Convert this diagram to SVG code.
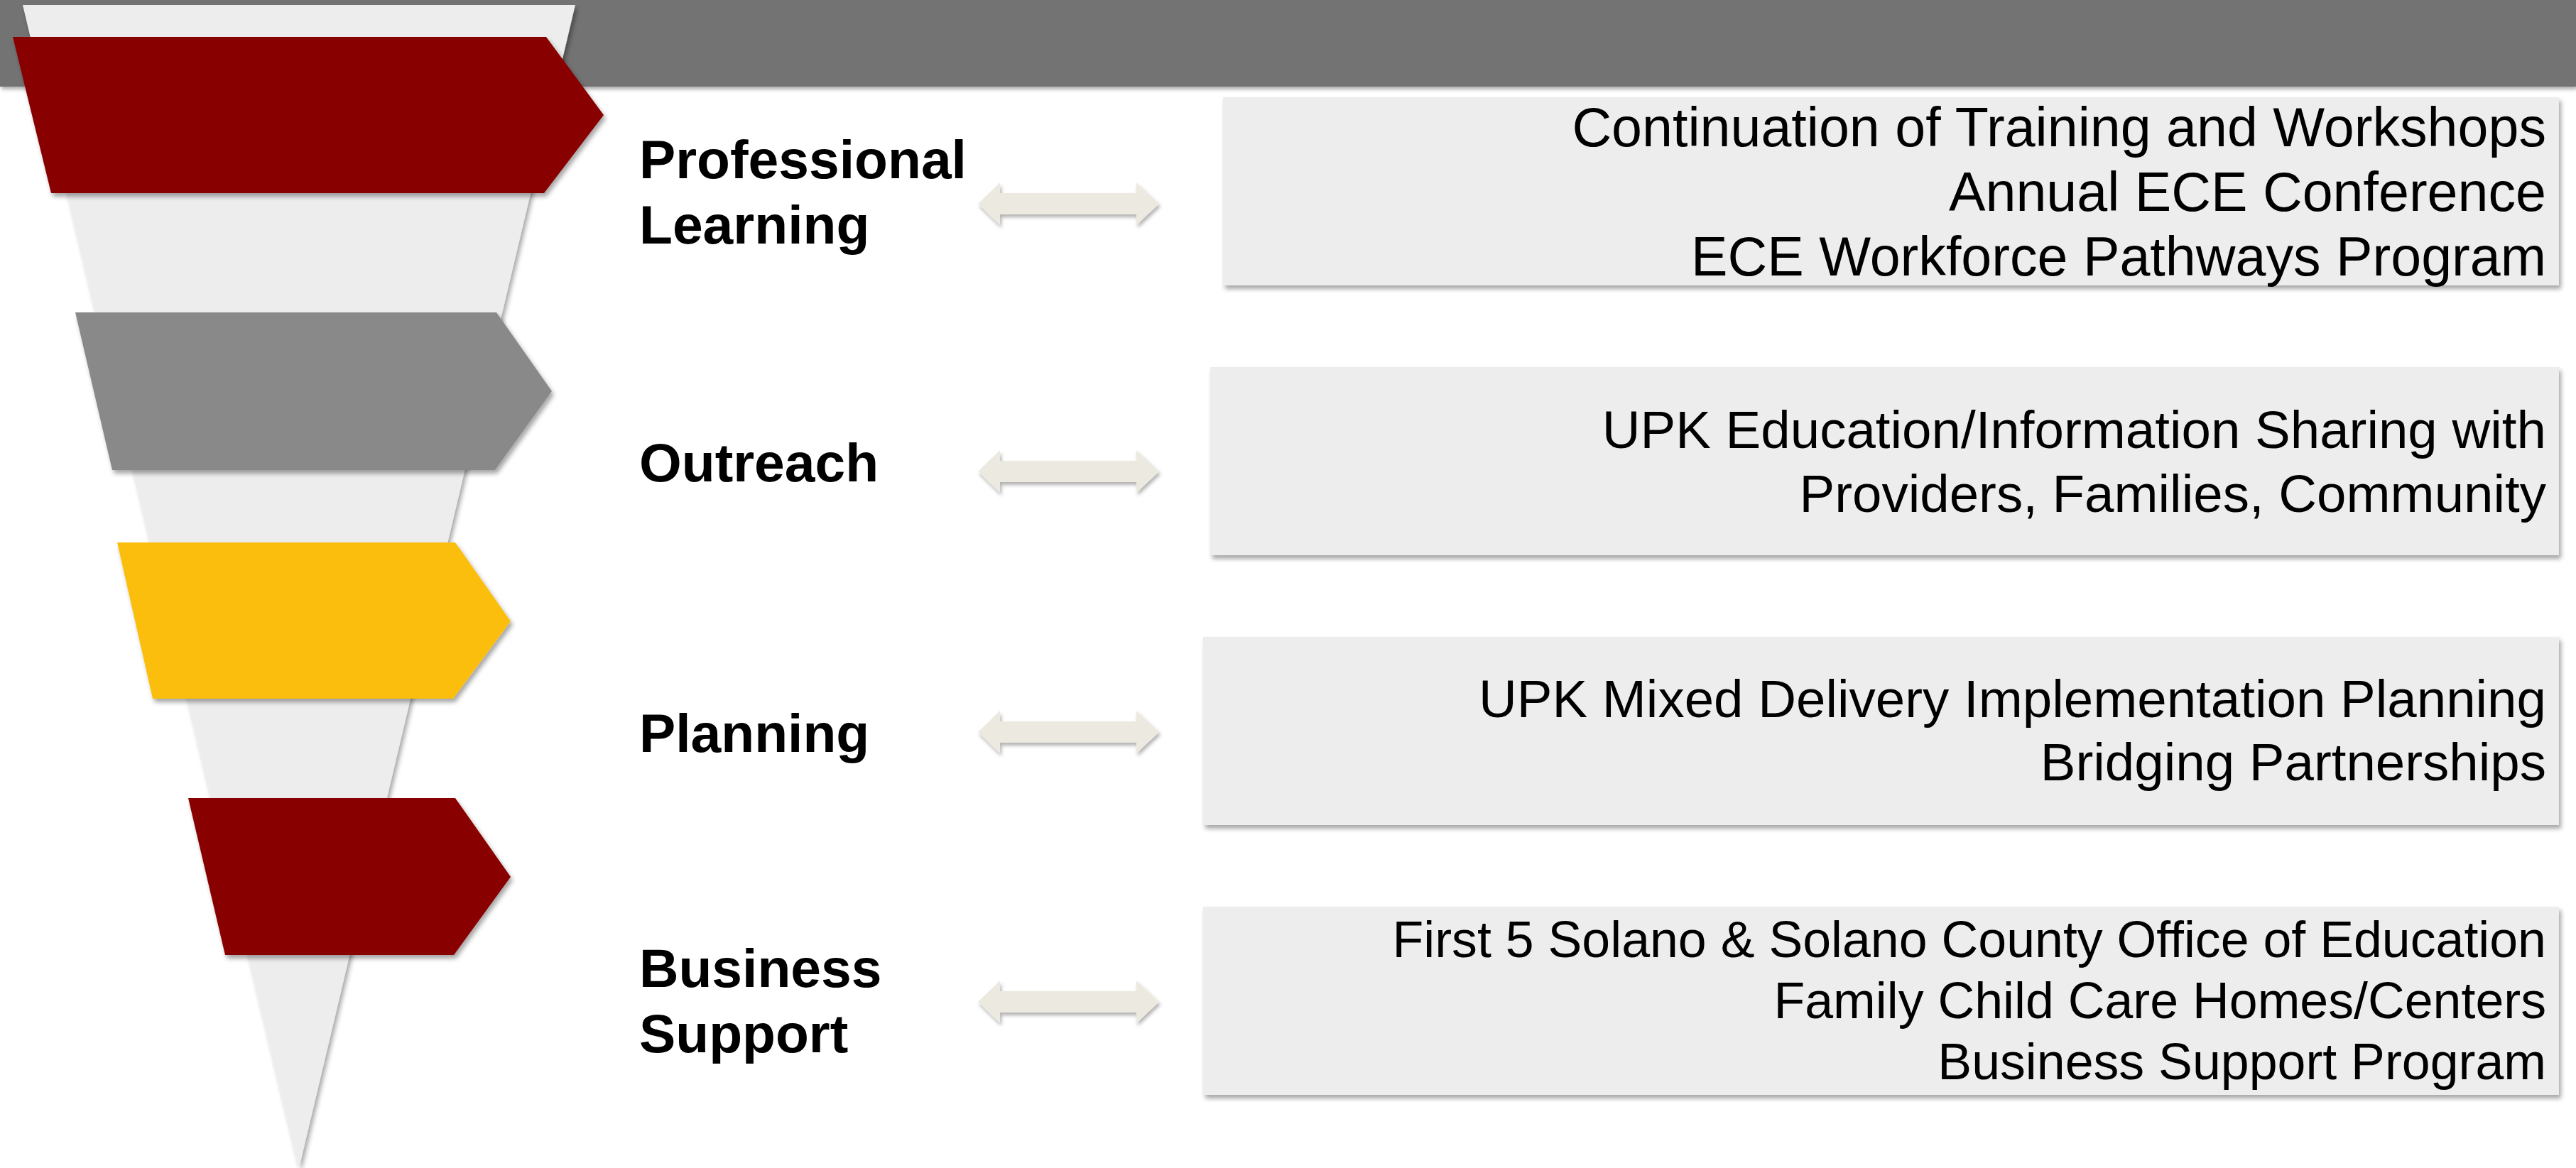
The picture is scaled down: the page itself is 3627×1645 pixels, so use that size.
<svg xmlns="http://www.w3.org/2000/svg" width="3627" height="1645" viewBox="0 0 3627 1645">
<defs>
<filter id="sh" x="-10%" y="-10%" width="130%" height="130%">
<feDropShadow dx="3" dy="5" stdDeviation="3" flood-color="#000" flood-opacity="0.35"/>
</filter>
<filter id="shs" x="-10%" y="-50%" width="130%" height="250%">
<feDropShadow dx="2" dy="4" stdDeviation="2.5" flood-color="#000" flood-opacity="0.3"/>
</filter>
<style>
.lbl{font-family:"Liberation Sans",Arial,sans-serif;font-weight:bold;font-size:76.8px;fill:#000}
.box{fill:#EDEDED;filter:url(#sh)}
.bt{font-family:"Liberation Sans",Arial,sans-serif;font-size:76px;fill:#000;text-anchor:end}
.dbl{fill:#ECEAE0;filter:url(#shs)}
</style>
</defs>
<rect width="3627" height="1645" fill="#FFFFFF"/>
<rect id="topbar" x="0" y="0" width="3627" height="122" fill="#737373" filter="url(#shs)"/>
<g id="funnel">
<polygon points="32,7 810,7 421,1645" fill="#EDEDED" filter="url(#sh)"/>
</g>
<g id="stage1"><polygon points="18,52 769,52 850,162 766,272 72,272" fill="#880000" filter="url(#sh)"/></g>
<g id="stage2"><polygon points="106,440 699,440 777,551 697,662 158,662" fill="#898989" filter="url(#sh)"/></g>
<g id="stage3"><polygon points="165,764 641,764 719,875 638,984 215,984" fill="#FBBE10" filter="url(#sh)"/></g>
<g id="stage4"><polygon points="265,1124 641,1124 719,1235 639,1345 317,1345" fill="#880000" filter="url(#sh)"/></g>
<g id="label1"><text class="lbl" x="900" y="251">Professional</text><text class="lbl" x="900" y="343">Learning</text></g>
<g id="label2"><text class="lbl" x="900" y="678">Outreach</text></g>
<g id="label3"><text class="lbl" x="900" y="1059">Planning</text></g>
<g id="label4"><text class="lbl" x="900" y="1390">Business</text><text class="lbl" x="900" y="1482">Support</text></g>
<g id="connectors">
<polygon class="dbl" points="1377,287 1408,257 1408,272 1600,272 1600,257 1632,287 1600,317 1600,302 1408,302 1408,317"/>
<polygon class="dbl" points="1377,664 1408,634 1408,649 1600,649 1600,634 1632,664 1600,694 1600,679 1408,679 1408,694"/>
<polygon class="dbl" points="1377,1031 1408,1001 1408,1016 1600,1016 1600,1001 1632,1031 1600,1061 1600,1046 1408,1046 1408,1061"/>
<polygon class="dbl" points="1377,1411 1408,1381 1408,1396 1600,1396 1600,1381 1632,1411 1600,1441 1600,1426 1408,1426 1408,1441"/>
</g>
<g id="box1"><rect class="box" x="1722" y="137" width="1881" height="265"/>
<text class="bt" x="3585" y="206" style="font-size:77.2px">Continuation of Training and Workshops</text>
<text class="bt" x="3585" y="297" style="font-size:77.2px">Annual ECE Conference</text>
<text class="bt" x="3585" y="388" style="font-size:77.2px">ECE Workforce Pathways Program</text></g>
<g id="box2"><rect class="box" x="1704" y="517" width="1899" height="265"/>
<text class="bt" x="3585" y="631" style="font-size:74.5px">UPK Education/Information Sharing with</text>
<text class="bt" x="3585" y="721" style="font-size:74.5px">Providers, Families, Community</text></g>
<g id="box3"><rect class="box" x="1694" y="897" width="1909" height="265"/>
<text class="bt" x="3585" y="1010" style="font-size:74.5px">UPK Mixed Delivery Implementation Planning</text>
<text class="bt" x="3585" y="1099" style="font-size:74.5px">Bridging Partnerships</text></g>
<g id="box4"><rect class="box" x="1694" y="1277" width="1909" height="265"/>
<text class="bt" x="3585" y="1348" style="font-size:71.7px">First 5 Solano &amp; Solano County Office of Education</text>
<text class="bt" x="3585" y="1434" style="font-size:71.7px">Family Child Care Homes/Centers</text>
<text class="bt" x="3585" y="1520" style="font-size:71.7px">Business Support Program</text></g>
</svg>
